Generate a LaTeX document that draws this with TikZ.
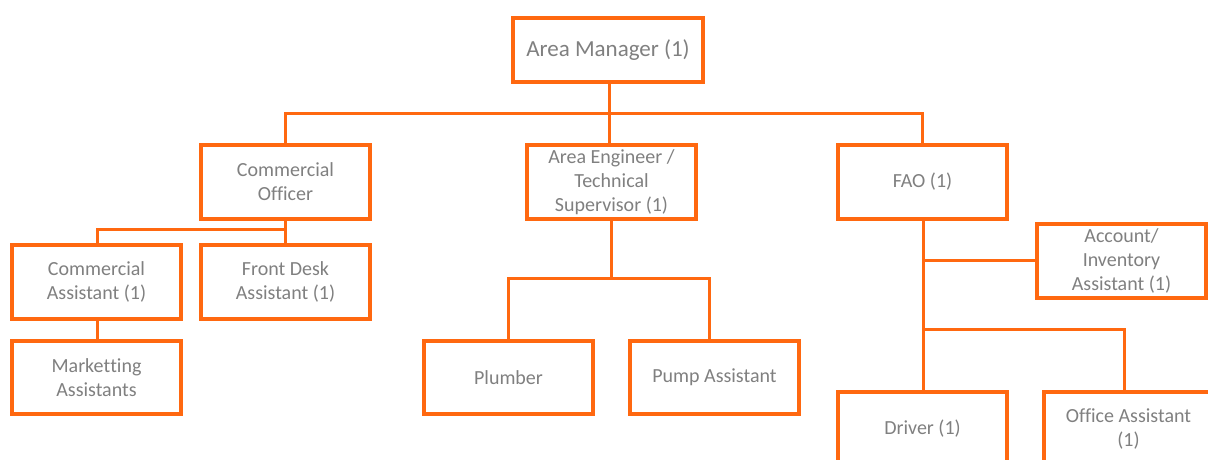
\documentclass[tikz,border=0pt]{standalone}
\usepackage{fontspec}
\setmainfont{Carlito}[Ligatures=NoCommon]
\definecolor{orgline}{RGB}{255,104,16}
\definecolor{orgtext}{RGB}{128,128,128}
\tikzset{
  post/.style={draw=orgline, line width=2.8pt, fill=white, text=orgtext,
    align=center, font=\fontsize{20}{24}\selectfont,
    minimum width=168pt, minimum height=72pt, inner sep=0pt},
  link/.style={draw=orgline, line width=3pt}
}
\begin{document}
\begin{tikzpicture}[x=1pt, y=-1pt]
\clip (0,0) rectangle (1208,459);
\fill[white] (0,0) rectangle (1208,459);

% top level
\node[post, minimum width=189pt, minimum height=63pt,
      font=\fontsize{23}{27}\selectfont] (am) at (608,50) {Area Manager (1)};

% second level
\node[post] (co)  at (285.5,182) {Commercial\\Officer};
\node[post] (ae)  at (611.5,182) {Area Engineer /\\Technical\\Supervisor (1)};
\node[post] (fao) at (922.5,182) {FAO (1)};

% commercial branch
\node[post, minimum height=73pt] (ca) at (96.5,282)  {Commercial\\Assistant (1)};
\node[post, minimum height=73pt] (fd) at (285.5,282) {Front Desk\\Assistant (1)};
\node[post] (ma) at (96.5,377.5) {Market\kern0pt ting\\Assistants};

% technical branch
\node[post] (pl) at (508.5,377.5) {Plumber};
\node[post] (pa) at (714.5,377.5) {Pump Assistant};

% finance branch
\node[post, minimum height=73pt] (acc) at (1121.5,261) {Account/\\Inventory\\Assistant (1)};
\node[post] (drv) at (922.5,429) {Driver (1)};
\node[post] (oa)  at (1128.5,429) {Office Assistant\\(1)};

% junction points
\coordinate (bus)  at (609,113);
\coordinate (cbus) at (285,229.5);
\coordinate (tbus) at (611,278);
\coordinate (fj1)  at (923,260);
\coordinate (fj2)  at (923,329);

% connectors
\draw[link] (am.south -| bus) -- (bus);
\draw[link] (co.north) |- (bus) -| (fao.north);
\draw[link] (bus) -- (bus |- ae.north);

\draw[link] (co.south -| cbus) -- (cbus) -- (fd.north -| cbus);
\draw[link] (cbus) -| ([xshift=0.5pt]ca.north);
\draw[link] ([xshift=0.5pt]ca.south) -- ([xshift=0.5pt]ma.north);

\draw[link] (ae.south -| tbus) -- (tbus);
\draw[link] (pl.north) |- (tbus) -| ([xshift=-5.5pt]pa.north);

\draw[link] (fao.south -| fj1) -- (drv.north -| fj1);
\draw[link] (fj1) -- (fj1 -| acc.west);
\draw[link] (fj2) -| ([xshift=-4.5pt]oa.north);

% redraw box borders above the connector ends
\foreach \n in {am,co,ae,fao,ca,fd,ma,pl,pa,acc,drv,oa}
  \draw[orgline, line width=2.8pt] (\n.north west) rectangle (\n.south east);
\end{tikzpicture}
\end{document}
